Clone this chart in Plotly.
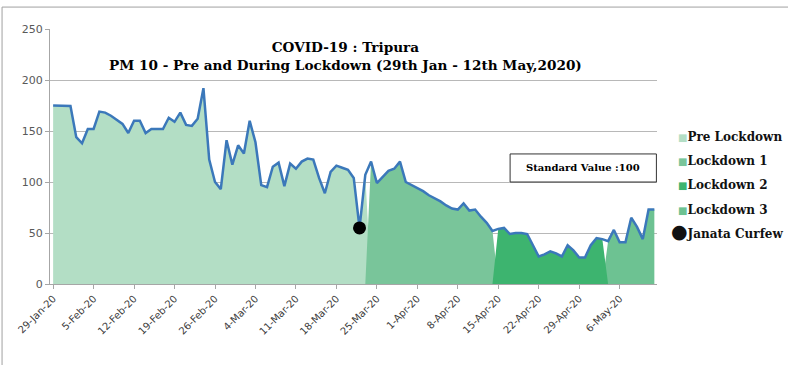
import pandas as pd
import plotly.graph_objects as go

# ---- data ----
dates = list(pd.date_range("2020-01-29", "2020-05-12", freq="D"))
pm10 = [175, 175, 175, 174.5, 144, 138, 152, 152, 169, 168,
        165, 161, 157, 148, 160, 160, 148, 152, 152, 152,
        163, 159, 168, 156, 155, 162, 192, 122, 100, 93,
        141, 117, 136, 128, 160, 139, 97, 95, 115, 119,
        96, 118, 113, 120, 123, 122, 104, 89, 110, 116,
        114, 112, 104, 55, 107, 120, 99, 105, 111, 113,
        120, 100, 97, 94, 91, 87, 84, 81, 77, 74,
        73, 79, 72, 73, 66, 60, 52, 54, 55, 49,
        50, 50, 49, 38, 27, 29, 32, 30, 27, 38,
        33, 26, 26, 38, 45, 44, 42, 53, 41, 41,
        65, 56, 44, 73, 73]
periods = ["Pre Lockdown", "Lockdown 1", "Lockdown 2", "Lockdown 3"]
period_start = ["2020-01-29", "2020-03-24", "2020-04-15", "2020-05-04"]
period_end = ["2020-03-23", "2020-04-14", "2020-05-03", "2020-05-12"]
curfew_label = "Janata Curfew"
curfew_date = "2020-03-22"
title_lines = ["COVID-19 : Tripura",
               "PM 10 - Pre and During Lockdown (29th Jan - 12th May,2020)"]
standard_text = "Standard Value :100"
y_ticks = [0, 50, 100, 150, 200, 250]

# ---- styles ----
fills = {"Pre Lockdown": "#b3dec5", "Lockdown 1": "#79c59a",
         "Lockdown 2": "#3db46f", "Lockdown 3": "#6dc292"}
line_color = "#3b78ba"
serif = "DejaVu Serif"

s = pd.Series(pm10, index=pd.DatetimeIndex(dates))
fig = go.Figure()

def area(name):
    i = periods.index(name)
    seg = s[period_start[i]:period_end[i]]
    xs, ys = list(seg.index), list(seg.values)
    one = pd.Timedelta(days=1)
    if seg.index[0] > s.index[0]:
        xs = [seg.index[0] - one] + xs
        ys = [0] + ys
    if seg.index[-1] < s.index[-1]:
        xs = xs + [seg.index[-1] + one]
        ys = ys + [0]
    return go.Scatter(x=xs, y=ys, mode="none", fill="tozeroy",
                      fillcolor=fills[name], showlegend=False,
                      hoverinfo="skip", name=name)

for name in ["Pre Lockdown", "Lockdown 1", "Lockdown 3", "Lockdown 2"]:
    fig.add_trace(area(name))

fig.add_trace(go.Scatter(x=dates, y=pm10, mode="lines",
                         line=dict(color=line_color, width=2.5),
                         showlegend=False, name="PM 10"))
fig.add_trace(go.Scatter(x=[pd.Timestamp(curfew_date)], y=[s[curfew_date]],
                         mode="markers", marker=dict(color="black", size=13),
                         showlegend=False, name=curfew_label))

fig.update_layout(
    width=788, height=365,
    margin=dict(l=50, r=131, t=29, b=81),
    paper_bgcolor="white", plot_bgcolor="white",
    showlegend=False,
    xaxis=dict(type="date",
               range=[pd.Timestamp("2020-01-29") - pd.Timedelta(hours=13),
                      pd.Timestamp("2020-05-12") + pd.Timedelta(hours=11)],
               tick0="2020-01-29", dtick=7 * 86400000,
               tickformat="%-d-%b-%y", tickangle=-45,
               ticks="outside", ticklen=4, tickcolor="#a6a6a6",
               showline=True, linecolor="#a6a6a6", linewidth=1,
               showgrid=False, zeroline=False,
               tickfont=dict(family="DejaVu Sans", size=10, color="#404040")),
    yaxis=dict(range=[0, 250], tickvals=y_ticks,
               ticks="outside", ticklen=4, tickcolor="#a6a6a6",
               showline=True, linecolor="#a6a6a6", linewidth=1,
               showgrid=True, gridcolor="#b8b8b8", gridwidth=1,
               zeroline=False,
               tickfont=dict(family="DejaVu Sans", size=11, color="#595959")),
)

# legend (drawn as text entries right of the plot)
legend_y = [0.576, 0.482, 0.388, 0.290]
for name, yy in zip(periods, legend_y):
    fig.add_annotation(
        text=f'<span style="color:{fills[name]};font-size:10px">■</span><b>{name}</b>',
        xref="paper", yref="paper", x=1.031, y=yy, xanchor="left",
        yanchor="middle", showarrow=False,
        font=dict(family=serif, size=12, color="#111111"))
fig.add_annotation(
    text='<span style="font-size:19px">●</span><b>' + curfew_label + '</b>',
    xref="paper", yref="paper", x=1.019, y=0.208, xanchor="left",
    yanchor="middle", showarrow=False,
    font=dict(family=serif, size=12, color="#111111"))

fig.add_annotation(text="<b>" + title_lines[0] + "</b><br><b>" + title_lines[1] + "</b>",
                   xref="paper", yref="paper", x=0.486, y=0.893,
                   xanchor="center", yanchor="middle", showarrow=False,
                   font=dict(family=serif, size=13.6, color="black"))

fig.add_shape(type="rect", xref="paper", yref="paper",
              x0=0.758, x1=0.999, y0=0.40, y1=0.51,
              line=dict(color="#333333", width=1), fillcolor="white")
fig.add_annotation(text="<b>" + standard_text + "</b>", xref="paper", yref="paper",
                   x=0.878, y=0.455, xanchor="center", yanchor="middle",
                   showarrow=False, font=dict(family=serif, size=10, color="black"))

# outer chart frame
fig.add_shape(type="rect", xref="paper", yref="paper",
              x0=-0.079, x1=1.22, y0=-0.33, y1=1.086,
              line=dict(color="#a0a0a0", width=1), layer="below")

fig.write_html("out.html")
